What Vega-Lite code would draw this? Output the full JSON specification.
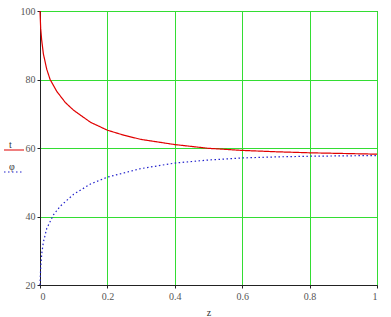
{
  "$schema": "https://vega.github.io/schema/vega-lite/v6.json",
  "autosize": "none",
  "width": 337,
  "height": 274,
  "padding": {"left": 40, "top": 11, "right": 14, "bottom": 32},
  "background": "white",
  "config": {
    "view": {"stroke": "#222", "strokeWidth": 1},
    "axis": {"labelFont": "Liberation Serif", "labelFontSize": 10, "labelColor": "#555", "titleFont": "Liberation Serif", "titleFontSize": 10, "titleFontWeight": "normal", "titleColor": "#333", "gridColor": "#33dd33", "gridWidth": 1, "gridOpacity": 1, "domainColor": "#222", "tickColor": "#222", "tickSize": 3}
  },
  "data": {"values": [
    {"z": 0, "v": 100, "s": "t"},
    {"z": 0.002, "v": 95, "s": "t"},
    {"z": 0.005, "v": 91.5, "s": "t"},
    {"z": 0.01, "v": 87.5, "s": "t"},
    {"z": 0.02, "v": 83, "s": "t"},
    {"z": 0.03, "v": 80, "s": "t"},
    {"z": 0.05, "v": 76.5, "s": "t"},
    {"z": 0.075, "v": 73.3, "s": "t"},
    {"z": 0.1, "v": 71, "s": "t"},
    {"z": 0.15, "v": 67.5, "s": "t"},
    {"z": 0.2, "v": 65.2, "s": "t"},
    {"z": 0.25, "v": 63.7, "s": "t"},
    {"z": 0.3, "v": 62.5, "s": "t"},
    {"z": 0.4, "v": 61, "s": "t"},
    {"z": 0.5, "v": 59.9, "s": "t"},
    {"z": 0.6, "v": 59.3, "s": "t"},
    {"z": 0.7, "v": 58.9, "s": "t"},
    {"z": 0.8, "v": 58.6, "s": "t"},
    {"z": 0.9, "v": 58.4, "s": "t"},
    {"z": 1, "v": 58.2, "s": "t"},
    {"z": 0, "v": 20, "s": "φ"},
    {"z": 0.002, "v": 25, "s": "φ"},
    {"z": 0.005, "v": 29, "s": "φ"},
    {"z": 0.01, "v": 32.5, "s": "φ"},
    {"z": 0.02, "v": 36.5, "s": "φ"},
    {"z": 0.04, "v": 40.5, "s": "φ"},
    {"z": 0.06, "v": 43, "s": "φ"},
    {"z": 0.1, "v": 46.5, "s": "φ"},
    {"z": 0.15, "v": 49.5, "s": "φ"},
    {"z": 0.2, "v": 51.5, "s": "φ"},
    {"z": 0.3, "v": 54, "s": "φ"},
    {"z": 0.4, "v": 55.6, "s": "φ"},
    {"z": 0.5, "v": 56.5, "s": "φ"},
    {"z": 0.6, "v": 57.1, "s": "φ"},
    {"z": 0.7, "v": 57.4, "s": "φ"},
    {"z": 0.8, "v": 57.6, "s": "φ"},
    {"z": 0.9, "v": 57.7, "s": "φ"},
    {"z": 1, "v": 57.8, "s": "φ"}
  ]},
  "mark": {"type": "line", "strokeWidth": 1.2},
  "encoding": {
    "x": {"field": "z", "type": "quantitative", "scale": {"domain": [0, 1], "nice": false}, "axis": {"values": [0, 0.2, 0.4, 0.6, 0.8, 1], "format": "~g", "title": "z", "titlePadding": 6, "labelPadding": 3}},
    "y": {"field": "v", "type": "quantitative", "scale": {"domain": [20, 100], "nice": false, "zero": false}, "axis": {"values": [20, 40, 60, 80, 100], "title": null, "labelPadding": 2}},
    "color": {"field": "s", "type": "nominal", "scale": {"domain": ["t", "φ"], "range": ["#e00000", "#2222cc"]}, "legend": {"title": null, "orient": "none", "legendX": -37, "legendY": 128, "symbolType": "stroke", "symbolSize": 400, "symbolStrokeWidth": 1.2, "labelFont": "Liberation Serif", "labelFontSize": 10, "labelColor": "#333", "labelAlign": "left", "labelOffset": -16, "labelBaseline": "bottom", "rowPadding": 8}},
    "strokeDash": {"field": "s", "type": "nominal", "scale": {"domain": ["t", "φ"], "range": [[1, 0], [1.5, 2.5]]}, "legend": null}
  }
}
